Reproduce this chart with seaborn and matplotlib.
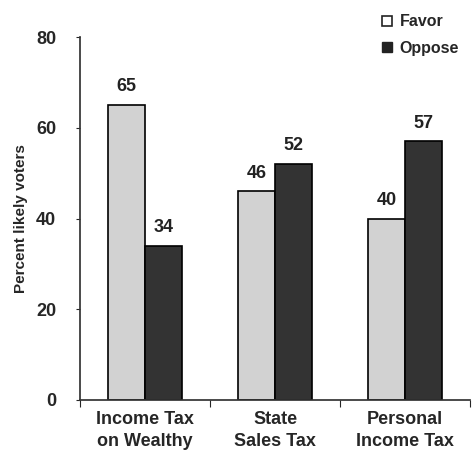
import pandas as pd
import numpy as np
import matplotlib
matplotlib.use('Agg')
import matplotlib.pyplot as plt
import seaborn as sns
from matplotlib.lines import Line2D

categories = ['Income Tax\non Wealthy', 'State\nSales Tax', 'Personal\nIncome Tax']
favor = [65, 46, 40]
oppose = [34, 52, 57]
series = ['Favor', 'Oppose']

df = pd.DataFrame({
    'category': categories * 2,
    'value': favor + oppose,
    'position': ['Favor'] * 3 + ['Oppose'] * 3,
})

sns.set_theme(style="white")
plt.rcParams['font.family'] = ['Liberation Sans', 'DejaVu Sans']
plt.rcParams['font.weight'] = 'bold'

fig = plt.figure(figsize=(4.76, 4.67), dpi=100)
ax = fig.add_axes([0.168, 0.1435, 0.82, 0.777])

palette = {'Favor': '#d2d2d2', 'Oppose': '#333333'}
sns.barplot(data=df, x='category', y='value', hue='position', palette=palette,
            width=0.57, edgecolor='black', linewidth=1.2, saturation=1,
            legend=False, ax=ax)

for cont in ax.containers:
    ax.bar_label(cont, padding=7, fontsize=13, fontweight='bold', color='#222222')

ax.set_ylim(0, 80)
ax.set_xlim(-0.5, 2.5)
ax.set_yticks([0, 20, 40, 60, 80])
ax.set_ylabel('Percent likely voters', fontsize=11, fontweight='bold', labelpad=6)
ax.set_xlabel('')
ax.tick_params(axis='y', labelsize=13, length=3, width=0.8, direction='out', left=True, pad=14)
ax.tick_params(axis='x', labelsize=13, length=0, pad=8)
ax.set_xticks([-0.5, 0.5, 1.5, 2.5], minor=True)
ax.tick_params(axis='x', which='minor', length=5, width=0.8, direction='out', bottom=True)
for lbl in ax.get_xticklabels():
    lbl.set_fontweight('bold')
    lbl.set_linespacing(1.35)
for lbl in ax.get_yticklabels():
    lbl.set_fontweight('bold')
sns.despine(ax=ax)
ax.spines['left'].set_color('#333333')
ax.spines['bottom'].set_color('#333333')

handles = [
    Line2D([], [], marker='s', linestyle='', markersize=7, markerfacecolor='white',
           markeredgecolor='#222222', markeredgewidth=1.2),
    Line2D([], [], marker='s', linestyle='', markersize=7, markerfacecolor='#222222',
           markeredgecolor='#222222'),
]
fig.legend(handles, series, loc='upper right', bbox_to_anchor=(0.995, 1.0), frameon=False,
           prop={'size': 11.5, 'weight': 'bold'}, handletextpad=0.3, labelspacing=0.7,
           handlelength=1.0)

fig.savefig('out.png', dpi=100)
